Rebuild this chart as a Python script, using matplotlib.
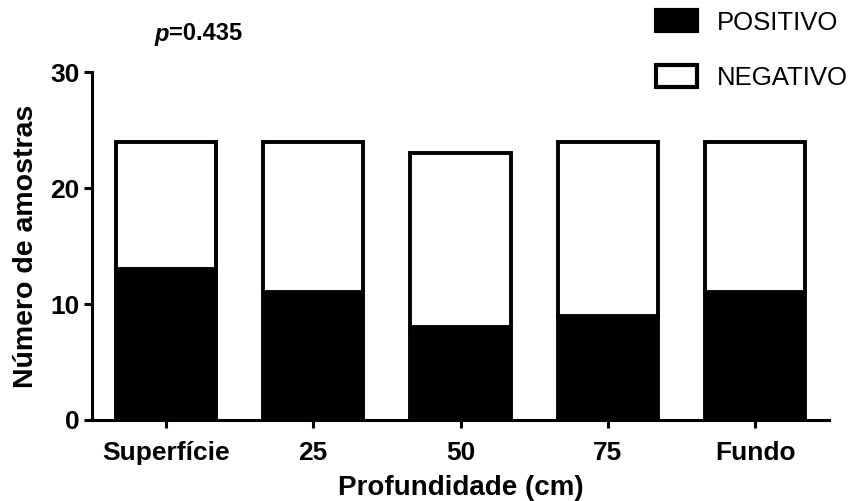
import matplotlib
matplotlib.use("Agg")
import matplotlib.pyplot as plt
from matplotlib.patches import Patch
import numpy as np

categories = ["Superfície", "25", "50", "75", "Fundo"]
positivo = [13, 11, 8, 9, 11]
negativo = [11, 13, 15, 15, 13]
yticks = [0, 10, 20, 30]

plt.rcParams['font.family'] = ['Liberation Sans', 'DejaVu Sans']

fig = plt.figure(figsize=(8.6, 5.01), dpi=100)
ax = fig.add_axes([0.107, 0.1617, 0.857, 0.6945])

x = np.arange(len(categories))
w = 0.68
ax.bar(x, positivo, width=w, color='black', edgecolor='black', linewidth=2.8, zorder=2)
ax.bar(x, negativo, width=w, bottom=positivo, color='white', edgecolor='black', linewidth=2.8, zorder=2)

ax.set_xlim(-0.5, 4.5)
ax.set_ylim(0, 30)
ax.set_yticks(yticks)
ax.set_xticks(x)
ax.set_xticklabels(categories, fontsize=19, fontweight='bold')
ax.set_yticklabels([str(v) for v in yticks], fontsize=19, fontweight='bold')
for s in ['top', 'right']:
    ax.spines[s].set_visible(False)
for s in ['left', 'bottom']:
    ax.spines[s].set_linewidth(2.2)
ax.tick_params(axis='both', width=2.2, length=6, pad=3)
ax.tick_params(axis='x', pad=9)
ax.set_ylabel("Número de amostras", fontsize=20.5, fontweight='bold', labelpad=8)
ax.set_xlabel("Profundidade (cm)", fontsize=20, fontweight='bold', labelpad=7)

fig.text(155/860, 1 - 34/501, "p", fontsize=17, fontweight='bold', style='italic',
         va='center', ha='left')
fig.text(169/860, 1 - 34/501, "=0.435", fontsize=17, fontweight='bold',
         va='center', ha='left')

handles = [Patch(facecolor='black', edgecolor='black', linewidth=3),
           Patch(facecolor='white', edgecolor='black', linewidth=3)]
fig.legend(handles, ["POSITIVO", "NEGATIVO"], loc='upper left',
           bbox_to_anchor=(656/860, 1 - 10/501), frameon=False, fontsize=18.5,
           borderaxespad=0, borderpad=0, handlelength=1.6, handleheight=0.9,
           handletextpad=0.75, labelspacing=1.2)

fig.savefig("out.png", dpi=100)
